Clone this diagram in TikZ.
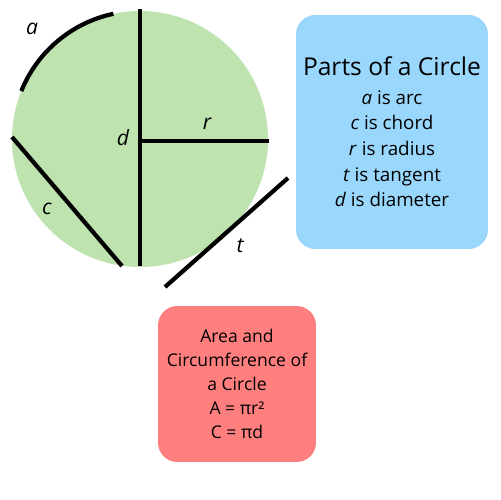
\documentclass[tikz,border=0pt]{standalone}
\usepackage{fontspec}
\setmainfont{Open Sans}
\usepackage{xcolor}
\usetikzlibrary{positioning}

\definecolor{discgreen}{HTML}{BEE3AF}
\definecolor{partsblue}{HTML}{9AD7FC}
\definecolor{areared}{HTML}{FF7F7F}

\begin{document}
\begin{tikzpicture}[
        x=0.02cm, y=-0.02cm, % <--- one unit is one pixel of the 500x500 image
        % Define the style for the black parts of the circle
        partline/.style={line width=2.4pt, black},
        partlabel/.style={font=\fontsize{12}{14}\selectfont\itshape, inner sep=0pt},
        % Define the style for the two info boxes
        infobox/.style={
            rectangle, rounded corners=11pt, align=center, inner sep=0pt
        }
    ]

        % ==========================
        % PAGE
        % ==========================
        \fill[white] (0,0) rectangle (500,500);
        \useasboundingbox (0,0) rectangle (500,500);

        % ==========================
        % CIRCLE AND ITS PARTS
        % ==========================
        \coordinate (ctr) at (140,139);
        \fill[discgreen] (ctr) circle (128);

        % arc
        \draw[partline] (ctr) ++(-102:128) arc[start angle=-102, end angle=-158, radius=128];
        % diameter and radius
        \coordinate (dtop) at (140,9);
        \coordinate (dbot) at (140,266);
        \coordinate (rin)  at (140,141);
        \coordinate (rout) at (269,141);
        \draw[partline] (dtop) -- (dbot);
        \draw[partline] (rin) -- (rout);
        % chord
        \coordinate (cA) at (12,137);
        \coordinate (cB) at (122,266);
        \draw[partline] (cA) -- (cB);
        % tangent
        \coordinate (tA) at (288,178);
        \coordinate (tB) at (165,287);
        \draw[partline] (tA) -- (tB);

        % labels
        \node[partlabel] (lblA) at (32,29)  {a};
        \node[partlabel] (lblD) at (123,138) {d};
        \node[partlabel] (lblR) at (207,124) {r};
        \node[partlabel] (lblC) at (47,209) {c};
        \node[partlabel] (lblT) at (240,246) {t};

        % ==========================
        % INFO BOXES
        % ==========================
        \node[infobox, fill=partsblue, minimum width=3.84cm, minimum height=4.68cm,
              font=\fontsize{10.7}{14.6}\selectfont] (parts) at (392,132)
            {{\fontsize{14}{16}\selectfont Parts of a Circle}\\[1.5pt]
             \textit{a} is arc\\ \textit{c} is chord\\ \textit{r} is radius\\
             \textit{t} is tangent\\ \textit{d} is diameter};

        \node[infobox, fill=areared, minimum width=3.16cm, minimum height=3.12cm,
              font=\fontsize{10}{13.6}\selectfont] (area) at (237,384)
            {Area and\\ Circumference of\\ a Circle\\ A = πr²\\ C = πd};

    \end{tikzpicture}
\end{document}
